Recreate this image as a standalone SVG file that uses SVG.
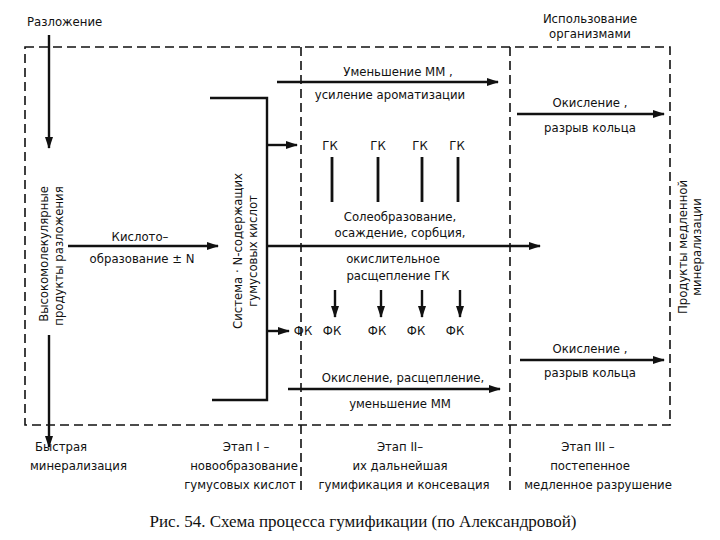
<svg xmlns="http://www.w3.org/2000/svg" width="720" height="540" viewBox="0 0 720 540">
<defs>
<marker id="ah" markerUnits="userSpaceOnUse" markerWidth="12" markerHeight="8" refX="11" refY="4" orient="auto">
<path d="M0,0 L12,4 L0,8 Z" fill="#111"/>
</marker>
<style>
text{font-family:"DejaVu Sans Condensed","DejaVu Sans","Liberation Sans",sans-serif;font-size:13px;fill:#111}
.c{text-anchor:middle}
.cap{font-family:"Liberation Serif",serif;font-size:17px}
.dash{fill:none;stroke:#111;stroke-width:1.6;stroke-dasharray:9 5}
.ln{fill:none;stroke:#111;stroke-width:2.4}
.ar{fill:none;stroke:#111;stroke-width:2.4;marker-end:url(#ah)}
.tk{fill:none;stroke:#111;stroke-width:2.8}
</style>
</defs>
<rect width="720" height="540" fill="#fff"/>
<g id="frame">
<rect class="dash" x="25" y="47" width="645" height="378"/>
<line class="dash" x1="301" y1="47" x2="301" y2="492"/>
<line class="dash" x1="510" y1="47" x2="510" y2="492"/>
</g>
<g id="connectors">
<line class="ar" x1="49" y1="35" x2="49" y2="148"/>
<line class="ar" x1="49" y1="335" x2="49" y2="447"/>
<line class="ar" x1="68" y1="246" x2="218" y2="246"/>
<polyline class="ln" points="210,98 267,98 267,400 212,400"/>
<line class="ar" x1="267" y1="145" x2="297" y2="145"/>
<line class="ar" x1="267" y1="246" x2="540" y2="246"/>
<line class="ar" x1="267" y1="331" x2="289" y2="331"/>
<line class="ar" x1="277" y1="82" x2="498" y2="82"/>
<line class="ar" x1="288" y1="389" x2="500" y2="389"/>
<line class="ar" x1="517" y1="114" x2="664" y2="114"/>
<line class="ar" x1="520" y1="360" x2="664" y2="360"/>
<line class="tk" x1="332" y1="157" x2="332" y2="202"/>
<line class="tk" x1="378" y1="157" x2="378" y2="202"/>
<line class="tk" x1="422" y1="157" x2="422" y2="202"/>
<line class="tk" x1="458" y1="157" x2="458" y2="202"/>
<line class="ar" x1="335" y1="290" x2="335" y2="317"/>
<line class="ar" x1="381" y1="290" x2="381" y2="317"/>
<line class="ar" x1="422" y1="290" x2="422" y2="317"/>
<line class="ar" x1="460" y1="290" x2="460" y2="317"/>
</g>
<g id="razlozhenie"><text x="27" y="26">Разложение</text></g>
<g id="ispolzovanie"><text class="c" x="590" y="23">Использование</text><text class="c" x="590" y="38">организмами</text></g>
<g id="vysokomol"><text class="c" transform="translate(48,254) rotate(-90)">Высокомолекулярные</text><text class="c" transform="translate(63,256) rotate(-90)">продукты  разложения</text></g>
<g id="kisloto"><text class="c" x="140" y="241">Кислото–</text><text class="c" x="142" y="263">образование ± N</text></g>
<g id="sistema"><text class="c" transform="translate(242,251) rotate(-90)">Система · N-содержащих</text><text class="c" transform="translate(257,251) rotate(-90)">гумусовых кислот</text></g>
<g id="umensh"><text class="c" x="398" y="76">Уменьшение  ММ ,</text><text class="c" x="390" y="99">усиление ароматизации</text></g>
<g id="gk"><text class="c" x="330" y="150">ГК</text><text class="c" x="378" y="150">ГК</text><text class="c" x="420" y="150">ГК</text><text class="c" x="457" y="150">ГК</text></g>
<g id="soleobr"><text class="c" x="400" y="221">Солеобразование,</text><text class="c" x="400" y="237">осаждение, сорбция,</text><text class="c" x="393" y="263">окислительное</text><text class="c" x="398" y="280">расщепление ГК</text></g>
<g id="fk"><text class="c" x="303" y="335">ФК</text><text class="c" x="332" y="335">ФК</text><text class="c" x="377" y="335">ФК</text><text class="c" x="416" y="335">ФК</text><text class="c" x="455" y="335">ФК</text></g>
<g id="okisl-rassh"><text class="c" x="403" y="382">Окисление, расщепление,</text><text class="c" x="400" y="408">уменьшение  ММ</text></g>
<g id="okisl1"><text class="c" x="590" y="107">Окисление ,</text><text class="c" x="590" y="132">разрыв  кольца</text></g>
<g id="okisl2"><text class="c" x="590" y="353">Окисление ,</text><text class="c" x="590" y="377">разрыв  кольца</text></g>
<g id="produkty"><text class="c" transform="translate(687,247) rotate(-90)">Продукты медленной</text><text class="c" transform="translate(701,247) rotate(-90)">минерализации</text></g>
<g id="bystraya"><text x="35" y="451">Быстрая</text><text x="30" y="470">минерализация</text></g>
<g id="etap1"><text class="c" x="246" y="451">Этап I –</text><text class="c" x="244" y="470">новообразование</text><text class="c" x="240" y="489">гумусовых  кислот</text></g>
<g id="etap2"><text class="c" x="400" y="451">Этап II–</text><text class="c" x="400" y="470">их дальнейшая</text><text class="c" x="404" y="489">гумификация и консевация</text></g>
<g id="etap3"><text class="c" x="588" y="451">Этап III –</text><text class="c" x="590" y="470">постепенное</text><text class="c" x="598" y="489">медленное разрушение</text></g>
<g id="caption"><text class="cap c" x="363" y="527">Рис. 54. Схема процесса гумификации (по Александровой)</text></g>
</svg>
